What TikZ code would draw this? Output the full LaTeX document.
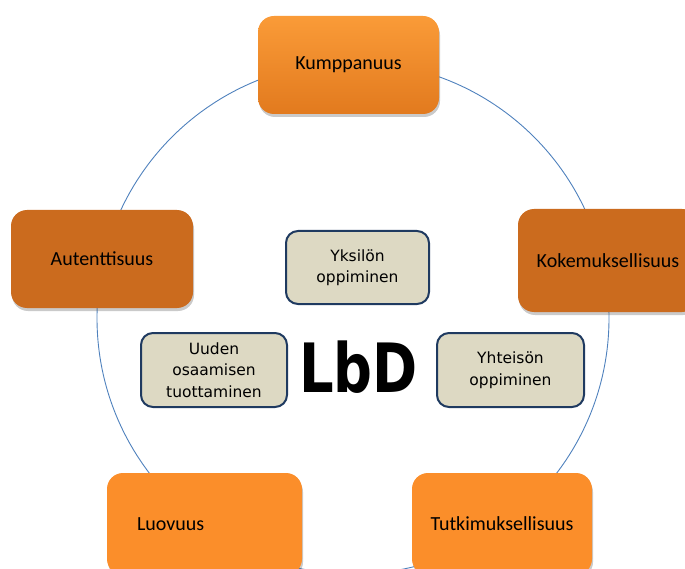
\documentclass[tikz,border=0pt]{standalone}
\usepackage{fontspec}
\setmainfont{Carlito}
\newfontfamily\innerfont{DejaVu Sans}
\usetikzlibrary{shadows}
\definecolor{orgA}{HTML}{FA9B38}
\definecolor{orgB}{HTML}{E27A1E}
\definecolor{orgDark}{HTML}{CB6B1E}
\definecolor{orgBright}{HTML}{FB8E2A}
\definecolor{beige}{HTML}{DDD9C3}
\definecolor{navy}{HTML}{1F3A60}
\definecolor{ringblue}{HTML}{4F81BD}
\tikzset{
  obox/.style={rectangle, rounded corners=16pt, inner sep=0pt, align=center,
    font=\fontsize{20}{24}\selectfont,
    drop shadow={shadow xshift=1pt, shadow yshift=-3pt, opacity=0.35, fill=black!60}},
  ibox/.style={rectangle, rounded corners=12pt, draw=navy, line width=2pt, fill=beige,
    inner sep=0pt, align=center, font=\innerfont\fontsize{15.5}{21.5}\selectfont},
  ring/.style={draw=ringblue, line width=0.9pt}
}
\begin{document}
\begin{tikzpicture}[x=1pt,y=-1pt]
\useasboundingbox (0,0) rectangle (685,569);
\clip (0,0) rectangle (685,569);
\coordinate (ctr) at (353,318);
\draw[ring] (ctr) circle[radius=256];
\node[obox, top color=orgA, bottom color=orgB, minimum width=181pt, minimum height=98pt] (kump) at (348.5,65) {Kumppanuus};
\node[obox, fill=orgDark, minimum width=182pt, minimum height=98pt] (aut) at (102,259) {Autenttisuus};
\node[obox, fill=orgDark, minimum width=180pt, minimum height=103pt] (kok) at (608,260.5) {Kokemuksellisuus};
\node[obox, fill=orgBright, minimum width=195pt, minimum height=102pt, text width=135pt, align=left] (luo) at (204.5,524) {Luovuus};
\node[obox, fill=orgBright, minimum width=180pt, minimum height=102pt] (tutk) at (502,524) {Tutkimuksellisuus};
\node[ibox, minimum width=143pt, minimum height=73pt] (yks) at (357.5,267.5) {Yksilön\\oppiminen};
\node[ibox, minimum width=146pt, minimum height=74pt] (uud) at (214,370) {Uuden\\osaamisen\\tuottaminen};
\node[ibox, minimum width=147pt, minimum height=74pt] (yht) at (510.5,370) {Yhteisön\\oppiminen};
\node[anchor=base, inner sep=0pt, font=\innerfont\bfseries\fontsize{68}{70}\selectfont] (lbd) at (358.5,392) {\scalebox{0.8}[1]{LbD}};
\end{tikzpicture}
\end{document}
